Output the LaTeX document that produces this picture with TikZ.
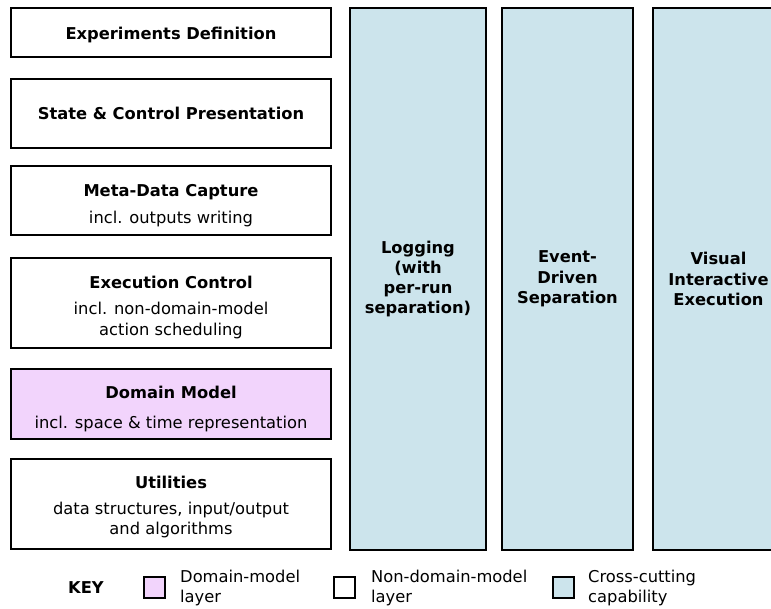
\documentclass[tikz,border=0pt]{standalone}
\usepackage{fontspec}
\setmainfont{DejaVu Sans}
\usetikzlibrary{shadows}
\definecolor{dompink}{RGB}{242,212,252}
\definecolor{xblue}{RGB}{204,228,236}
\begin{document}
\begin{tikzpicture}[x=1pt,y=-1pt,
  shad/.style={drop shadow={shadow xshift=1.3pt, shadow yshift=-1.3pt, opacity=0.4, fill=black}},
  layerbox/.style={shad, draw=black, line width=2pt, fill=white, rectangle, minimum width=320pt, inner sep=0pt},
  lbl/.style={inner sep=0pt, align=center, yshift=-3pt, font=\fontsize{16.3}{20.3}\selectfont},
  colbox/.style={shad, draw=black, line width=2pt, fill=xblue, rectangle, minimum height=542pt, inner sep=0pt, align=center, font=\fontsize{16.3}{20.3}\selectfont\bfseries},
  keybox/.style={shad, draw=black, line width=2pt, rectangle, minimum width=21pt, minimum height=21pt, inner sep=0pt},
  keytext/.style={anchor=west, align=left, inner sep=0pt, font=\fontsize{16.3}{20}\selectfont}
]
\useasboundingbox (0,0) rectangle (771,608);
\clip (0,0) rectangle (771,608);
\fill[white] (0,0) rectangle (771,608);

\node[layerbox, minimum height=49pt, label={[lbl, yshift=0.5pt]center:\bfseries Experiments Definition}] (exp) at (171,32.5) {};
\node[layerbox, minimum height=69pt, label={[lbl, yshift=3pt]center:\bfseries State \& Control Presentation}] (state) at (171,113.5) {};
\node[layerbox, minimum height=69pt, label={[lbl, yshift=-2pt]center:{{\bfseries Meta-Data Capture}\\[6.5pt]incl. outputs writing}}] (meta) at (171,200.5) {};
\node[layerbox, minimum height=90pt, label={[lbl, yshift=-1.5pt]center:{{\bfseries Execution Control}\\[5.5pt]incl. non-domain-model\\action scheduling}}] (exec) at (171,303) {};
\node[layerbox, fill=dompink, minimum height=70pt, label={[lbl, yshift=-2pt]center:{{\bfseries Domain Model}\\[9pt]incl. space \& time representation}}] (dom) at (171,404) {};
\node[layerbox, minimum height=90pt, label={[lbl]center:{{\bfseries Utilities}\\[5pt]data structures, input/output\\and algorithms}}] (util) at (171,504) {};

\node[colbox, minimum width=136pt] (log) at (418,279) {Logging\\(with\\per-run\\separation)};
\node[colbox, minimum width=131pt] (event) at (567.5,279) {Event-\\Driven\\Separation};
\node[colbox, minimum width=131pt] (visual) at (718.5,279) {Visual\\Interactive\\Execution};

\node[font=\fontsize{16.3}{20}\selectfont\bfseries, inner sep=0pt] (key) at (86,588) {KEY};
\node[keybox, fill=dompink] (kdom) at (154,587) {};
\node[keytext] (tdom) at (180,588) {Domain-model\\layer};
\node[keybox, fill=white] (knon) at (344.5,587) {};
\node[keytext] (tnon) at (371,588) {Non-domain-model\\layer};
\node[keybox, fill=xblue] (kcross) at (563.5,587) {};
\node[keytext] (tcross) at (588,588) {Cross-cutting\\capability};
\end{tikzpicture}
\end{document}
